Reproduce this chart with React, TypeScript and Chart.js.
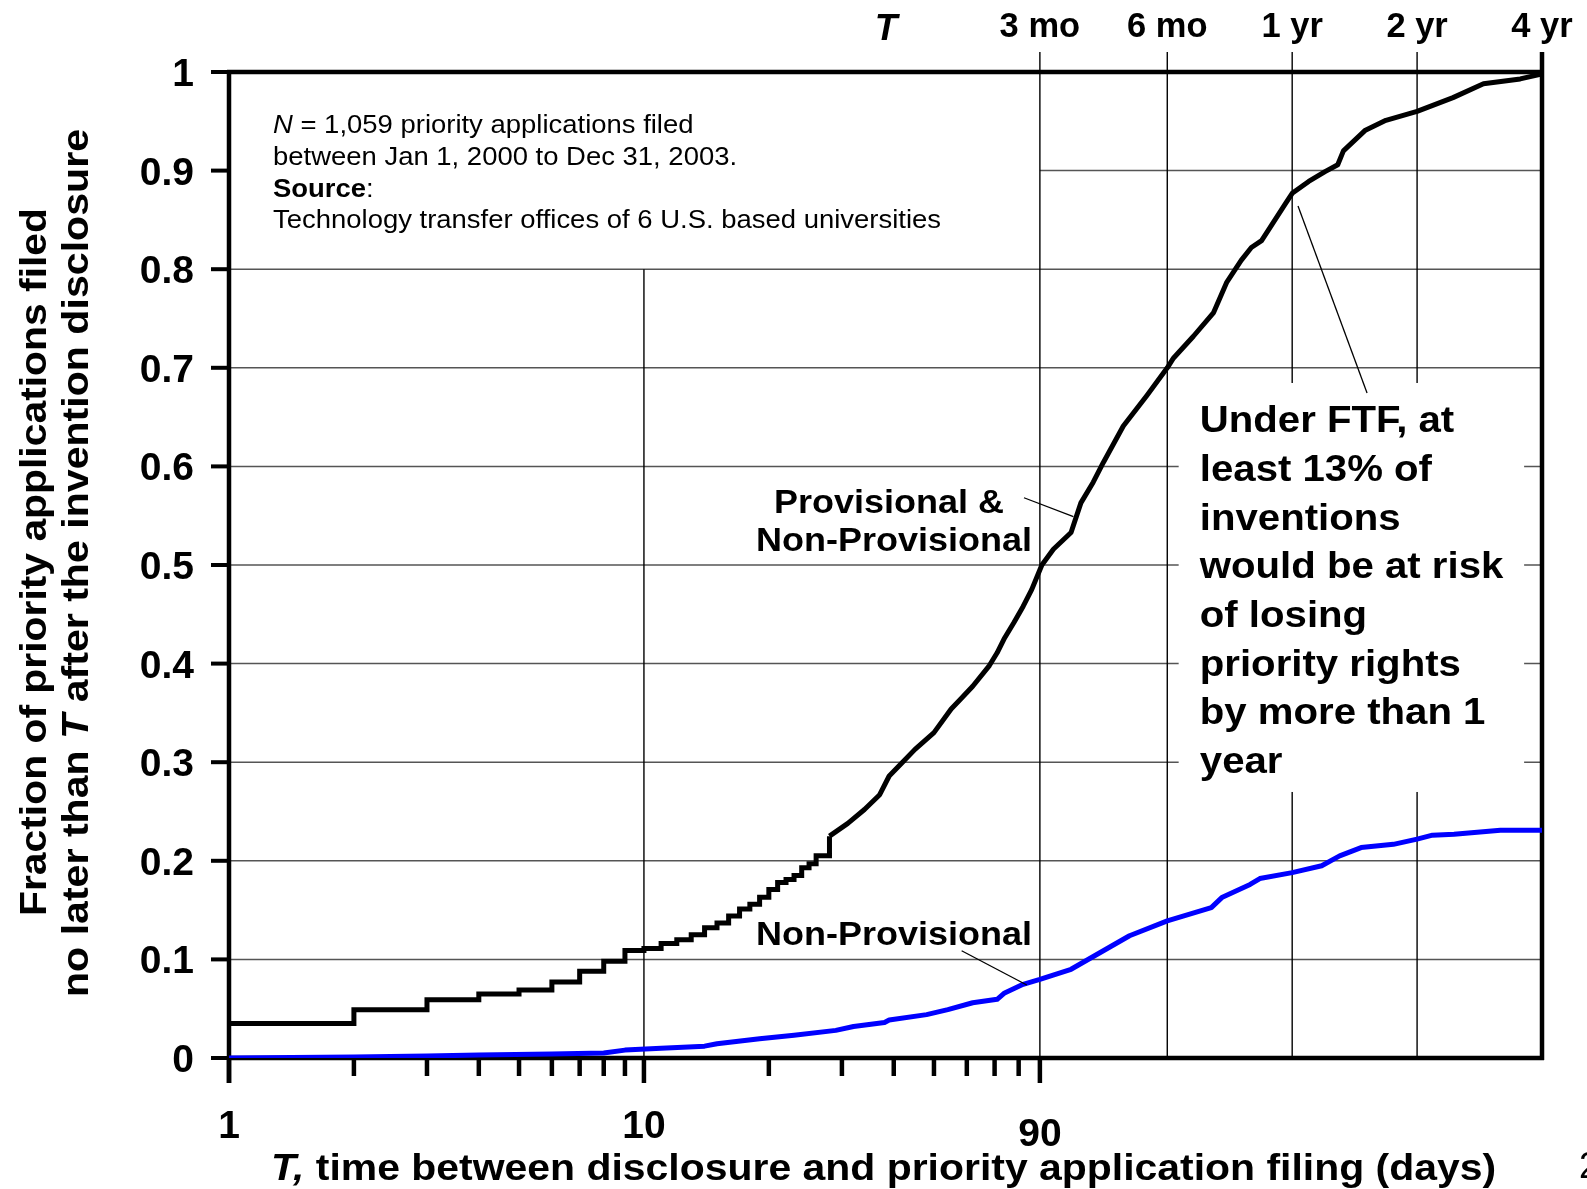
import React, { useEffect, useRef } from "react";
import { Chart, registerables } from "chart.js";

Chart.register(...registerables);

// ---------------- data ----------------
// Provisional & Non-Provisional (step part, integer days)
const stepDays = [1, 2, 3, 4, 5, 6, 7, 8, 9, 10, 11, 12, 13, 14, 15, 16, 17, 18, 19, 20, 21, 22, 23, 24, 25, 26, 28];
const stepFractions = [0.035, 0.049, 0.059, 0.065, 0.069, 0.077, 0.088, 0.098, 0.109, 0.111, 0.116, 0.120, 0.125, 0.132, 0.137, 0.144, 0.151, 0.156, 0.163, 0.171, 0.178, 0.181, 0.185, 0.193, 0.197, 0.205, 0.225];
// Provisional & Non-Provisional (dense part)
const lineDays = [28, 31, 34, 37, 39, 42, 45, 50, 55, 58, 62, 68, 71, 74, 78, 82, 86, 91, 97, 107, 113, 121, 128, 143, 163, 182.5, 189, 211, 236, 254, 275, 291, 308, 351, 365, 400, 438, 470, 485, 548, 614, 730, 891, 1055, 1294, 1460];
const lineFractions = [0.225, 0.238, 0.252, 0.267, 0.286, 0.300, 0.313, 0.330, 0.354, 0.364, 0.377, 0.398, 0.411, 0.426, 0.442, 0.458, 0.475, 0.500, 0.516, 0.533, 0.563, 0.584, 0.604, 0.641, 0.672, 0.700, 0.710, 0.732, 0.756, 0.787, 0.809, 0.822, 0.829, 0.866, 0.877, 0.889, 0.899, 0.906, 0.920, 0.941, 0.951, 0.960, 0.974, 0.988, 0.993, 0.998];
// Non-Provisional
const nonProvDays = [1, 2, 3, 4, 6, 8, 9, 11, 14, 15, 19, 23, 29, 32, 38, 39, 48, 54, 62, 71, 74, 82, 90, 107, 134, 148, 182.5, 233, 247, 289, 305, 365, 430, 475, 535, 640, 730, 795, 896, 1159, 1460];
const nonProvFractions = [0, 0.001, 0.002, 0.003, 0.004, 0.005, 0.008, 0.010, 0.012, 0.0145, 0.0196, 0.023, 0.028, 0.032, 0.036, 0.0385, 0.044, 0.049, 0.056, 0.0595, 0.066, 0.0747, 0.0797, 0.090, 0.1136, 0.124, 0.139, 0.1525, 0.1627, 0.176, 0.182, 0.188, 0.195, 0.205, 0.2134, 0.2167, 0.222, 0.226, 0.227, 0.231, 0.231];

const yTickValues = [0, 0.1, 0.2, 0.3, 0.4, 0.5, 0.6, 0.7, 0.8, 0.9, 1];
const yTickLabels = ["0", "0.1", "0.2", "0.3", "0.4", "0.5", "0.6", "0.7", "0.8", "0.9", "1"];
const xLabelDays = [1, 10, 90];
const xLabels = ["1", "10", "90"];
const xMinorTickDays = [2, 3, 4, 5, 6, 7, 8, 9, 20, 30, 40, 50, 60, 70, 80];
const topTickDays = [90, 182.5, 365, 730, 1460];
const topTickLabels = ["3 mo", "6 mo", "1 yr", "2 yr", "4 yr"];
const xMin = 1;
const xMax = 1460;

// ---------------- drawing helpers ----------------
const FF = "'Liberation Sans', Arial, Helvetica, sans-serif";
const bold = (s: number) => `bold ${s}px ${FF}`;
const boldIt = (s: number) => `italic bold ${s}px ${FF}`;
const reg = (s: number) => `${s}px ${FF}`;
const it = (s: number) => `italic ${s}px ${FF}`;

type Run = { t: string; f: string };

function runsWidth(ctx: CanvasRenderingContext2D, runs: Run[]) {
  let w = 0;
  for (const r of runs) {
    ctx.font = r.f;
    w += ctx.measureText(r.t).width;
  }
  return w;
}
function fitScale(ctx: CanvasRenderingContext2D, runs: Run[], target: number) {
  const w = runsWidth(ctx, runs);
  if (!w) return 1;
  return Math.max(0.85, Math.min(1.2, target / w));
}
function drawRuns(ctx: CanvasRenderingContext2D, runs: Run[], x: number, y: number, align: "left" | "center" | "right", sx = 1, color = "#000") {
  const w = runsWidth(ctx, runs) * sx;
  const start = align === "left" ? x : align === "center" ? x - w / 2 : x - w;
  ctx.save();
  ctx.fillStyle = color;
  ctx.textBaseline = "alphabetic";
  ctx.textAlign = "left";
  ctx.translate(start, y);
  ctx.scale(sx, 1);
  let cx = 0;
  for (const r of runs) {
    ctx.font = r.f;
    ctx.fillText(r.t, cx, 0);
    cx += ctx.measureText(r.t).width;
  }
  ctx.restore();
}
function line(ctx: CanvasRenderingContext2D, x1: number, y1: number, x2: number, y2: number) {
  ctx.beginPath();
  ctx.moveTo(x1, y1);
  ctx.lineTo(x2, y2);
  ctx.stroke();
}

const decorPlugin = {
  id: "decor",
  beforeDraw(chart: any) {
    const ctx = chart.ctx as CanvasRenderingContext2D;
    ctx.save();
    ctx.fillStyle = "#fff";
    ctx.fillRect(0, 0, chart.width, chart.height);
    ctx.restore();
  },
  beforeDatasetsDraw(chart: any) {
    const ctx = chart.ctx as CanvasRenderingContext2D;
    const a = chart.chartArea;
    const X = (v: number) => chart.scales.x.getPixelForValue(v);
    const Y = (v: number) => chart.scales.y.getPixelForValue(v);
    ctx.save();
    ctx.lineCap = "butt";
    // horizontal grid
    ctx.strokeStyle = "#555";
    ctx.lineWidth = 1.5;
    for (const v of yTickValues) {
      if (v === 0 || v === 1) continue;
      const x0 = v === 0.9 ? X(90) : a.left;
      line(ctx, x0, Y(v), a.right, Y(v));
    }
    // vertical grid
    ctx.strokeStyle = "#000";
    ctx.lineWidth = 1.4;
    line(ctx, X(10), Y(0.8), X(10), a.bottom);
    for (const d of topTickDays) {
      if (d === xMax) continue;
      line(ctx, X(d), a.top - 20, X(d), a.bottom);
    }
    // white annotation box
    ctx.fillStyle = "#fff";
    const bx0 = X(194.4), bx1 = X(1322), by0 = Y(0.6846), by1 = Y(0.2698);
    ctx.fillRect(bx0, by0, bx1 - bx0, by1 - by0);
    // frame
    ctx.strokeStyle = "#000";
    ctx.lineWidth = 4.5;
    line(ctx, a.left, a.top - 2, a.left, a.bottom + 25);
    line(ctx, a.right, a.top - 20, a.right, a.bottom + 2);
    line(ctx, a.left - 2, a.top, a.right + 2, a.top);
    line(ctx, a.left - 2, a.bottom, a.right + 2, a.bottom);
    // y ticks
    ctx.lineWidth = 4;
    for (const v of yTickValues) line(ctx, a.left - 18, Y(v), a.left, Y(v));
    // x ticks
    ctx.lineWidth = 4.5;
    for (const d of xMinorTickDays) line(ctx, X(d), a.bottom, X(d), a.bottom + 18);
    for (const d of xLabelDays) line(ctx, X(d), a.bottom, X(d), a.bottom + 25);
    ctx.restore();
  },
  afterDraw(chart: any) {
    const ctx = chart.ctx as CanvasRenderingContext2D;
    const a = chart.chartArea;
    const X = (v: number) => chart.scales.x.getPixelForValue(v);
    const Y = (v: number) => chart.scales.y.getPixelForValue(v);
    ctx.save();
    // y tick labels
    yTickValues.forEach((v, i) => {
      drawRuns(ctx, [{ t: yTickLabels[i], f: bold(39) }], a.left - 35, Y(v) + 14, "right");
    });
    // x tick labels
    xLabelDays.forEach((d, i) => {
      const drop = d === 90 ? 8 : 0;
      drawRuns(ctx, [{ t: xLabels[i], f: bold(39) }], X(d), a.bottom + 80 + drop, "center");
    });
    // top labels
    topTickDays.forEach((d, i) => {
      drawRuns(ctx, [{ t: topTickLabels[i], f: bold(34.5) }], X(d), 37, "center");
    });
    drawRuns(ctx, [{ t: "T", f: boldIt(37) }], 886, 40, "center");

    // x title
    const xt: Run[] = [
      { t: "T,", f: boldIt(36) },
      { t: " time between disclosure and priority application filing (days)", f: bold(36) },
    ];
    drawRuns(ctx, xt, 883.6, 1180, "center", fitScale(ctx, xt, 1225));

    // y title (rotated)
    const yt1: Run[] = [{ t: "Fraction of priority applications filed", f: bold(36) }];
    const yt2: Run[] = [
      { t: "no later than ", f: bold(36) },
      { t: "T", f: boldIt(36) },
      { t: " after the invention disclosure", f: bold(36) },
    ];
    ctx.save();
    ctx.translate(45.5, 562);
    ctx.rotate(-Math.PI / 2);
    drawRuns(ctx, yt1, 0, 0, "center", fitScale(ctx, yt1, 708));
    ctx.restore();
    ctx.save();
    ctx.translate(88.3, 563);
    ctx.rotate(-Math.PI / 2);
    drawRuns(ctx, yt2, 0, 0, "center", fitScale(ctx, yt2, 868));
    ctx.restore();

    // note text
    const n4: Run[] = [{ t: "Technology transfer offices of 6 U.S. based universities", f: reg(26) }];
    const nsx = fitScale(ctx, n4, 668);
    drawRuns(ctx, [{ t: "N", f: it(26) }, { t: " = 1,059 priority applications filed", f: reg(26) }], 273, 133.3, "left", nsx);
    drawRuns(ctx, [{ t: "between Jan 1, 2000 to Dec 31, 2003.", f: reg(26) }], 273, 165, "left", nsx);
    drawRuns(ctx, [{ t: "Source", f: bold(26) }, { t: ":", f: reg(26) }], 273, 196.7, "left", nsx);
    drawRuns(ctx, n4, 273, 228.4, "left", nsx);

    // series labels
    const np: Run[] = [{ t: "Non-Provisional", f: bold(33.5) }];
    const lsx = fitScale(ctx, np, 276);
    drawRuns(ctx, [{ t: "Provisional &", f: bold(33.5) }], 889, 513.3, "center", lsx);
    drawRuns(ctx, np, 894, 550.7, "center", lsx);
    drawRuns(ctx, np, 894, 945, "center", lsx);

    // FTF annotation
    const ftf = [
      "Under FTF, at",
      "least 13% of",
      "inventions",
      "would be at risk",
      "of losing",
      "priority rights",
      "by more than 1",
      "year",
    ];
    const fsx = fitScale(ctx, [{ t: "would be at risk", f: bold(37.5) }], 303.5);
    const tx = X(218.6);
    ftf.forEach((s, i) => {
      drawRuns(ctx, [{ t: s, f: bold(37.5) }], tx, 432.1 + i * 48.7, "left", fsx);
    });

    // leader lines
    ctx.strokeStyle = "#000";
    ctx.lineWidth = 1.3;
    line(ctx, X(377), Y(0.864), X(553), Y(0.6744));
    line(ctx, X(82.4), Y(0.5682), X(108.4), Y(0.549));
    line(ctx, X(58.3), Y(0.1088), X(83.7), Y(0.074));

    // page number (cut at the edge)
    drawRuns(ctx, [{ t: "2", f: reg(36) }], 1579, 1178, "left");
    ctx.restore();
  },
};

export default function App() {
  const ref = useRef<HTMLCanvasElement | null>(null);
  useEffect(() => {
    if (!ref.current) return;
    const chart = new Chart(ref.current, {
      type: "line",
      data: {
        datasets: [
          {
            label: "Non-Provisional",
            data: nonProvDays.map((d, i) => ({ x: d, y: nonProvFractions[i] })),
            borderColor: "#0000ff",
            borderWidth: 5,
            pointRadius: 0,
            fill: false,
            tension: 0,
            borderJoinStyle: "round",
          },
          {
            label: "Provisional & Non-Provisional (steps)",
            data: stepDays.map((d, i) => ({ x: d, y: stepFractions[i] })),
            borderColor: "#000",
            borderWidth: 5,
            pointRadius: 0,
            fill: false,
            stepped: true,
          },
          {
            label: "Provisional & Non-Provisional",
            data: lineDays.map((d, i) => ({ x: d, y: lineFractions[i] })),
            borderColor: "#000",
            borderWidth: 5,
            pointRadius: 0,
            fill: false,
            tension: 0,
            borderJoinStyle: "round",
          },
        ],
      },
      options: {
        responsive: false,
        animation: false,
        devicePixelRatio: 1,
        events: [],
        layout: { padding: { left: 229, right: 45, top: 72, bottom: 131 } },
        plugins: { legend: { display: false }, tooltip: { enabled: false }, title: { display: false } },
        scales: {
          x: { type: "logarithmic", min: xMin, max: xMax, display: false },
          y: { type: "linear", min: 0, max: 1, display: false },
        },
      },
      plugins: [decorPlugin],
    } as any);
    return () => chart.destroy();
  }, []);
  return (
    <div style={{ position: "absolute", left: 0, top: 0, width: 1587, height: 1189, background: "#fff", overflow: "hidden" }}>
      <canvas ref={ref} width={1587} height={1189} style={{ display: "block", width: 1587, height: 1189 }} />
    </div>
  );
}
